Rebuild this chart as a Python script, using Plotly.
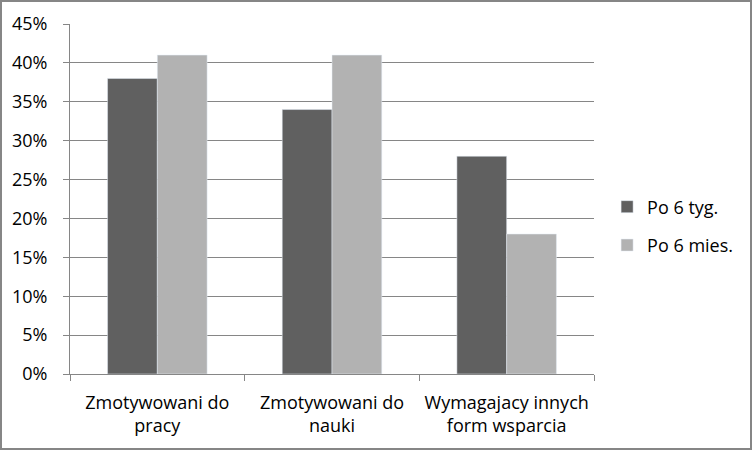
import plotly.graph_objects as go

categories = ["Zmotywowani do<br>pracy", "Zmotywowani do<br>nauki", "Wymagajacy innych<br>form wsparcia"]
po_6_tyg = [0.38, 0.34, 0.28]
po_6_mies = [0.41, 0.41, 0.18]
series_names = ["Po 6 tyg.", "Po 6 mies."]

W, H = 753, 451
L, R, T, B = 70, 159, 24, 77
pw, ph = W - L - R, H - T - B

fig = go.Figure()
fig.add_trace(go.Bar(x=categories, y=po_6_tyg, name=series_names[0],
                     marker_color="#606060", legendgroup="a"))
fig.add_trace(go.Bar(x=categories, y=po_6_mies, name=series_names[1],
                     marker_color="#b2b2b2", legendgroup="b"))

grid = "#868686"
fig.update_layout(
    width=W, height=H,
    margin=dict(l=L, r=R, t=T, b=B),
    paper_bgcolor="white", plot_bgcolor="white",
    font=dict(family="Open Sans, Liberation Sans, sans-serif", size=18, color="black"),
    barmode="group", bargap=0.43, bargroupgap=0,
    legend=dict(x=1.025, y=0.423, xanchor="left", yanchor="middle",
                tracegroupgap=12, font=dict(size=18)),
    xaxis=dict(showline=True, linecolor=grid, ticks="outside", tickson="boundaries",
               ticklen=6, tickcolor=grid, showgrid=False, ticklabelstandoff=12),
    yaxis=dict(range=[0, 0.45], dtick=0.05, tickformat=".0%", showgrid=True,
               gridcolor=grid, showline=True, linecolor=grid, ticks="outside",
               ticklen=6, tickcolor=grid, zeroline=False, ticklabelstandoff=12),
)

# outer chart border
fig.add_shape(type="rect", xref="paper", yref="paper",
              x0=(1 - L) / pw, x1=(751 - L) / pw,
              y0=(T + ph - 449) / ph, y1=(T + ph - 1) / ph,
              line=dict(color=grid, width=2))

fig.write_html("out.html", config={"displayModeBar": False},
               post_script="document.body.style.margin='0';")
